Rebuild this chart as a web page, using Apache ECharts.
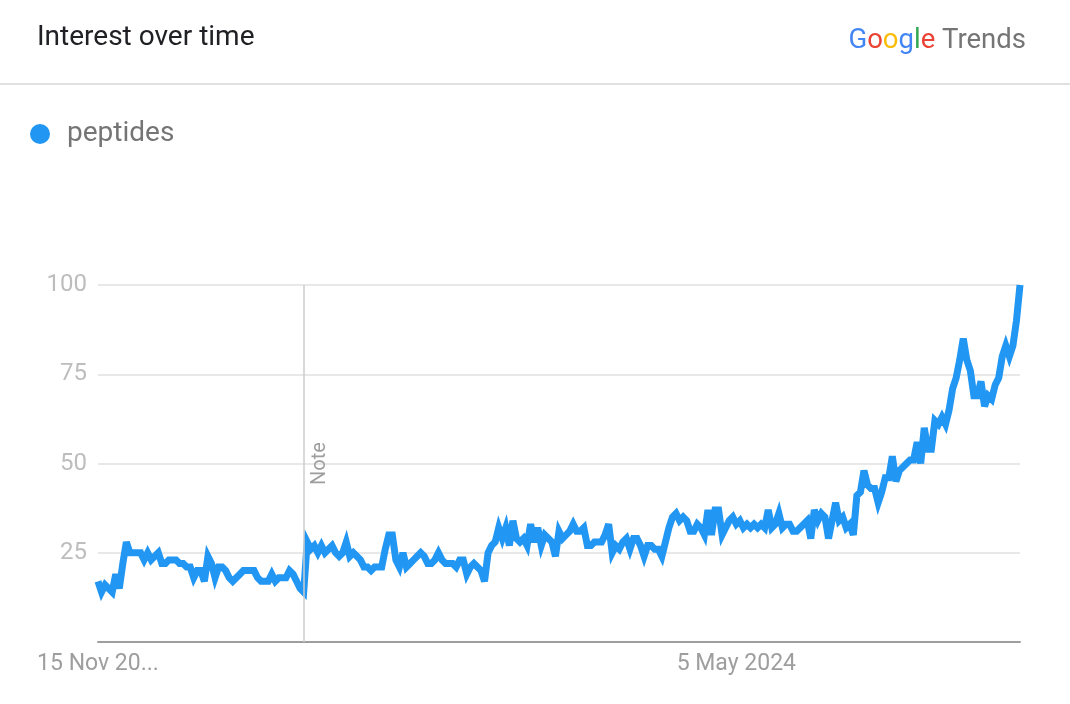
<!DOCTYPE html>
<html>
<head>
<meta charset="utf-8">
<script src="https://cdn.jsdelivr.net/npm/echarts@6/dist/echarts.min.js"></script>
<style>
html,body{margin:0;padding:0;background:#fff;}
#chart{width:1070px;height:704px;}
</style>
</head>
<body>
<div id="chart"></div>
<script>
// Weekly data, first week 15 Nov 2020
const startDate = [2020, 10, 15];
const seriesName = 'peptides';
const values = [
  17,14,16,15,14,19,15,22,28,25, 25,25,25,23,25,23,24,25,22,22,
  23,23,23,22,22,21,21,18,20,20, 17,24,22,18,21,21,20,18,17,18,
  19,20,20,20,20,18,17,17,17,19, 17,18,18,18,20,19,17,15,14,28,
  26,27,25,27,25,26,27,25,24,25, 28,24,25,24,23,21,21,20,21,21,
  21,26,30,30,23,21,25,21,22,23, 24,25,24,22,22,23,25,23,22,22,
  22,21,23,23,19,21,22,21,20,17, 25,27,28,32,29,32,27,34,29,28,
  29,27,33,28,32,27,30,29,28,24, 31,29,30,31,33,31,31,32,27,27,
  28,28,28,30,33,25,27,26,28,29, 26,29,29,27,24,27,27,26,26,24,
  28,32,35,36,34,35,34,31,31,33, 32,30,37,30,37,37,30,32,34,35,
  33,34,32,33,32,33,32,33,32,37, 32,33,36,32,33,33,31,31,32,33,
  34,29,37,34,36,35,29,34,39,34, 35,32,33,30,41,42,48,44,43,43,
  39,42,46,46,52,45,48,49,50,51, 51,56,50,60,54,54,62,61,63,61,
  65,71,74,79,85,79,76,69,69,73, 66,69,68,72,74,80,83,80,83,90,
  100
];
const yTicks = [0, 25, 50, 75, 100];
const xLabelIdx = [0, 180];
const xLabelText = ['15 Nov 20...', '5 May 2024'];
const noteIdx = 58;
const noteText = 'Note';

function pad(n){return n<10?'0'+n:''+n;}
const categories = values.map((v, i) => {
  const d = new Date(startDate[0], startDate[1], startDate[2] + i * 7);
  return d.getFullYear() + '-' + pad(d.getMonth() + 1) + '-' + pad(d.getDate());
});

const chart = echarts.init(document.getElementById('chart'));
const FONT = 'Roboto, "Noto Sans", sans-serif';
const logoStyle = (c) => ({color: c, fontSize: 27.5, fontFamily: FONT, fontWeight: 'normal'});
chart.setOption({
  backgroundColor: '#fff',
  animation: false,
  textStyle: {fontFamily: FONT},
  title: [{
    text: 'Interest over time',
    left: 32, top: 19,
    textStyle: {fontFamily: FONT, fontSize: 28, fontWeight: 'normal', color: '#202124'}
  }, {
    text: '{b|G}{r|o}{y|o}{b|g}{g|l}{r|e} {t|Trends}',
    right: 39, top: 22,
    textStyle: {
      fontFamily: FONT, fontSize: 27.5, fontWeight: 'normal',
      rich: {
        b: logoStyle('#4285F4'),
        r: logoStyle('#EA4335'),
        y: logoStyle('#FBBC05'),
        g: logoStyle('#34A853'),
        t: logoStyle('#757575')
      }
    }
  }],
  graphic: [{
    type: 'rect', left: 0, top: 83,
    shape: {width: 1070, height: 2},
    style: {fill: '#e0e0e0'}
  }],
  legend: {
    left: 25, top: 115,
    icon: 'circle', itemWidth: 44, itemHeight: 20, itemGap: 10,
    textStyle: {fontFamily: FONT, fontSize: 28, color: '#757575'},
    data: [seriesName]
  },
  grid: {left: 98, right: 50, top: 285, bottom: 62},
  xAxis: {
    type: 'category',
    data: categories,
    boundaryGap: false,
    axisLine: {lineStyle: {color: '#9e9e9e', width: 2}},
    axisTick: {show: false},
    splitLine: {show: false},
    axisLabel: {
      interval: (idx) => xLabelIdx.indexOf(idx) >= 0,
      formatter: (val, idx) => { const k = xLabelIdx.indexOf(idx); return k >= 0 ? xLabelText[k] : ''; },
      color: '#9e9e9e', fontSize: 23, margin: 11, fontFamily: FONT
    }
  },
  yAxis: {
    type: 'value',
    min: yTicks[0], max: yTicks[yTicks.length - 1], interval: 25,
    axisLine: {show: false},
    axisTick: {show: false},
    splitLine: {lineStyle: {color: '#e0e0e0', width: 1.5}},
    axisLabel: {
      formatter: (v) => v === 0 ? '' : String(v),
      color: '#bdbdbd', fontSize: 24, margin: 11, fontFamily: FONT
    }
  },
  series: [{
    name: seriesName,
    type: 'line',
    data: values,
    symbol: 'none',
    color: '#2196f3',
    lineStyle: {width: 7, color: '#2196f3', join: 'miter', miterLimit: 4},
    markLine: {
      silent: true,
      symbol: 'none',
      lineStyle: {color: '#cccccc', width: 1.5, type: 'solid'},
      label: {
        show: true, formatter: noteText,
        position: 'insideMiddleBottom',
        color: '#9e9e9e', fontSize: 20, fontFamily: FONT, distance: 6
      },
      data: [{xAxis: categories[noteIdx]}]
    },
    z: 3
  }]
});
</script>
</body>
</html>
